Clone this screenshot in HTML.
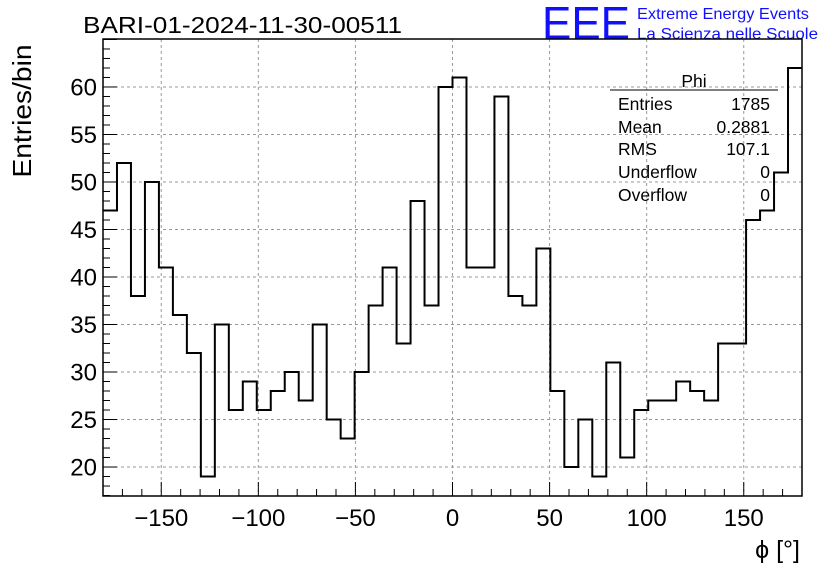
<!DOCTYPE html>
<html><head><meta charset="utf-8">
<style>
body{margin:0;background:#fff;}
svg{display:block;font-family:"Liberation Sans",sans-serif;}
</style></head>
<body>
<svg id="chart" width="836" height="572" viewBox="0 0 836 572" xmlns="http://www.w3.org/2000/svg">
<rect x="0" y="0" width="836" height="572" fill="#fff"/>
<text x="83" y="33" font-size="23" textLength="319" lengthAdjust="spacingAndGlyphs">BARI-01-2024-11-30-00511</text>
<text x="542" y="39" font-size="46" fill="#1010ff" textLength="88" lengthAdjust="spacingAndGlyphs">EEE</text>
<text x="637" y="19" font-size="16" fill="#1010ff" textLength="172" lengthAdjust="spacingAndGlyphs">Extreme Energy Events</text>
<text x="637" y="39" font-size="16" fill="#1010ff" textLength="181" lengthAdjust="spacingAndGlyphs">La Scienza nelle Scuole</text>
<g id="grid"></g>
<g id="ticks"></g>
<path id="hist" fill="none" stroke="#000" stroke-width="2"/>
<rect x="103" y="39" width="699" height="457" fill="none" stroke="#000" stroke-width="1.5"/>
<g id="labels"></g>
<text transform="translate(31,111) rotate(-90)" text-anchor="middle" font-size="26" textLength="133" lengthAdjust="spacingAndGlyphs">Entries/bin</text>
<text x="800" y="558" text-anchor="end" font-size="25">ϕ [°]</text>
<g font-size="17.5">
<text x="694" y="87" text-anchor="middle">Phi</text>
<line x1="610" y1="90" x2="778" y2="90" stroke="#000" stroke-width="1"/>
<text x="618" y="110">Entries</text><text x="770" y="110" text-anchor="end">1785</text>
<text x="618" y="133">Mean</text><text x="770" y="133" text-anchor="end">0.2881</text>
<text x="618" y="155">RMS</text><text x="770" y="155" text-anchor="end">107.1</text>
<text x="618" y="178">Underflow</text><text x="770" y="178" text-anchor="end">0</text>
<text x="618" y="201">Overflow</text><text x="770" y="201" text-anchor="end">0</text>
</g>
</svg>
<script>
const counts=[47,52,38,50,41,36,32,19,35,26,29,26,28,30,27,35,25,23,30,37,41,33,48,37,60,61,41,41,59,38,37,43,28,20,25,19,31,21,26,27,27,29,28,27,33,33,46,47,51,62];
const xMin=-180, xMax=180;
const yMin=16.95, yMax=65.05;
const xTickVals=[-150,-100,-50,0,50,100,150];
const yTickVals=[20,25,30,35,40,45,50,55,60];
const L=103,R=802,T=39,B=496;
const X=v=>L+(v-xMin)/(xMax-xMin)*(R-L);
const Y=v=>B-(v-yMin)/(yMax-yMin)*(B-T);
const NS="http://www.w3.org/2000/svg";
const g=document.getElementById('grid'), tk=document.getElementById('ticks'), lb=document.getElementById('labels');
function mk(tag,attrs,parent){const e=document.createElementNS(NS,tag);for(const k in attrs)e.setAttribute(k,attrs[k]);parent.appendChild(e);return e;}
xTickVals.forEach(v=>{
 const l=mk('line',{x1:X(v),x2:X(v),y1:T,y2:B,stroke:'#999','stroke-dasharray':'3,3','stroke-width':1},g);
 
 
 const t=mk('text',{x:X(v),y:526,'text-anchor':'middle','font-size':24},lb);
 
 
 t.textContent=v<0?'\u2212'+(-v):String(v);
});
for(let v=-170;v<=170;v+=10){
 const big=v%50===0;
 mk('line',{x1:X(v),x2:X(v),y1:B,y2:B-(big?14:7),stroke:'#000'},tk);
}
yTickVals.forEach(v=>{
 const l=mk('line',{x1:L,x2:R,y1:Y(v),y2:Y(v),stroke:'#999','stroke-dasharray':'3,3','stroke-width':1},g);
 
 
 const t=mk('text',{x:97,y:Y(v)+8.5,'text-anchor':'end','font-size':24},lb);
 
 
 t.textContent=String(v);
});
for(let v=17;v<=65;v++){
 const big=v%5===0;
 mk('line',{x1:L,x2:L+(big?14:7),y1:Y(v),y2:Y(v),stroke:'#000'},tk);
}
const w=(xMax-xMin)/counts.length;
let d='';
counts.forEach((c,i)=>{
 const x0=X(xMin+i*w),x1=X(xMin+(i+1)*w),y=Y(c);
 d+=(i===0?'M'+x0+','+y:'L'+x0+','+y)+'L'+x1+','+y;
});
document.getElementById('hist').setAttribute('d',d);
</script>
</body></html>
